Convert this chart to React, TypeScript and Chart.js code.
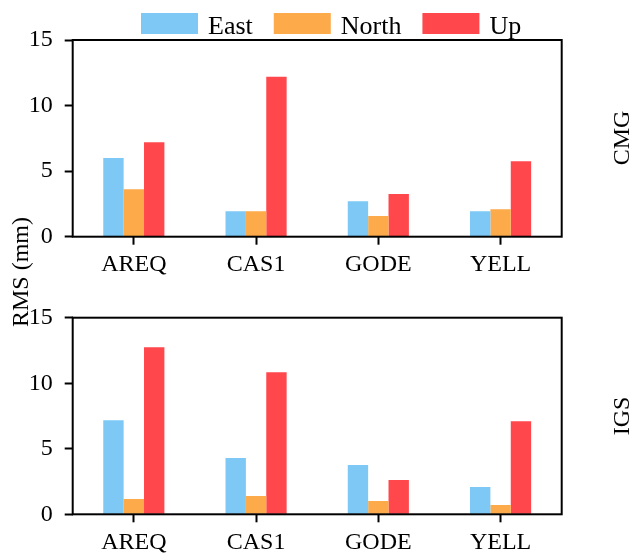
import React, { useEffect, useRef } from "react";
import { Chart, registerables } from "chart.js";

Chart.register(...registerables);

// ---- data ----
const stations = ["AREQ", "CAS1", "GODE", "YELL"];
const seriesNames = ["East", "North", "Up"];
const seriesColors = ["#7DC8F5", "#FDAA4A", "#FF474C"];

const cmgEast = [6.0, 1.95, 2.7, 1.95];
const cmgNorth = [3.62, 1.95, 1.57, 2.1];
const cmgUp = [7.2, 12.2, 3.25, 5.75];

const igsEast = [7.18, 4.3, 3.76, 2.08];
const igsNorth = [1.17, 1.4, 1.02, 0.71];
const igsUp = [12.74, 10.84, 2.61, 7.1];

const yTickValues = [0, 5, 10, 15];
const panelNames = ["CMG", "IGS"];
const yAxisTitle = "RMS (mm)";

const FONT = "'Liberation Serif', 'Times New Roman', Times, serif";
const W = 631;
const H = 558;

const framePlugin = {
  id: "frame",
  afterDatasetsDraw(chart: any) {
    const { ctx, chartArea: a } = chart;
    ctx.save();
    ctx.strokeStyle = "#000";
    ctx.lineWidth = 2;
    ctx.strokeRect(a.left, a.top, a.right - a.left, a.bottom - a.top);
    ctx.restore();
  },
};

const legendPlugin = {
  id: "topLegend",
  afterDraw(chart: any, _args: any, opts: any) {
    if (!opts || !opts.show) return;
    const { ctx } = chart;
    const boxW = 57;
    const boxH = 21;
    const gapText = 10;
    const gapItem = 21;
    const boxTop = 13;
    const baseline = 33.5;
    ctx.save();
    ctx.font = `26px ${FONT}`;
    ctx.textBaseline = "alphabetic";
    ctx.textAlign = "left";
    let x = opts.startX;
    chart.data.datasets.forEach((ds: any) => {
      ctx.fillStyle = ds.backgroundColor;
      ctx.fillRect(x, boxTop, boxW, boxH);
      ctx.fillStyle = "#000";
      ctx.fillText(ds.label, x + boxW + gapText, baseline);
      x += boxW + gapText + ctx.measureText(ds.label).width + gapItem;
    });
    ctx.restore();
  },
};

type PanelProps = {
  east: number[];
  north: number[];
  up: number[];
  top: number;
  height: number;
  padTop: number;
  xHeight: number;
  showLegend: boolean;
};

function Panel({ east, north, up, top, height, padTop, xHeight, showLegend }: PanelProps) {
  const ref = useRef<HTMLCanvasElement | null>(null);
  useEffect(() => {
    if (!ref.current) return;
    const values = [east, north, up];
    const chart = new Chart(ref.current, {
      type: "bar",
      data: {
        labels: stations,
        datasets: seriesNames.map((n, i) => ({
          label: n,
          data: values[i],
          backgroundColor: seriesColors[i],
          borderWidth: 0,
          categoryPercentage: 0.5,
          barPercentage: 1,
        })),
      },
      options: {
        responsive: false,
        animation: false,
        devicePixelRatio: 1,
        layout: { padding: { top: padTop, right: 69.3, bottom: 0, left: 0 } },
        plugins: {
          legend: { display: false },
          tooltip: { enabled: false },
          topLegend: { show: showLegend, startX: 141 },
        } as any,
        scales: {
          x: {
            grid: {
              offset: false,
              drawOnChartArea: false,
              drawTicks: true,
              tickLength: 8,
              tickWidth: 2,
              tickColor: "#000",
            },
            border: { display: false },
            ticks: {
              font: { family: FONT, size: 24 },
              color: "#000",
              padding: 6,
              maxRotation: 0,
              autoSkip: false,
            },
            afterFit: (s: any) => {
              s.height = xHeight;
            },
          },
          y: {
            min: 0,
            max: 15,
            afterBuildTicks: (s: any) => {
              s.ticks = yTickValues.map((v) => ({ value: v }));
            },
            grid: {
              drawOnChartArea: false,
              drawTicks: true,
              tickLength: 8,
              tickWidth: 2,
              tickColor: "#000",
            },
            border: { display: false },
            ticks: {
              font: { family: FONT, size: 24 },
              color: "#000",
              padding: 12,
            },
            afterFit: (s: any) => {
              s.width = 72.7;
            },
          },
        },
      } as any,
      plugins: [framePlugin, legendPlugin],
    });
    return () => chart.destroy();
  }, []);
  return (
    <canvas
      ref={ref}
      width={W}
      height={height}
      style={{ position: "absolute", left: 0, top, width: W, height }}
    />
  );
}

const labelStyle = (cx: number, cy: number): React.CSSProperties => ({
  position: "absolute",
  left: cx - 100,
  top: cy - 12,
  width: 200,
  height: 24,
  lineHeight: "24px",
  textAlign: "center",
  fontFamily: FONT,
  fontSize: 24,
  color: "#000",
  transform: "rotate(-90deg)",
  transformOrigin: "50% 50%",
  whiteSpace: "nowrap",
});

export default function App() {
  return (
    <div
      style={{
        position: "absolute",
        left: 0,
        top: 0,
        width: W,
        height: H,
        background: "#fff",
        overflow: "hidden",
      }}
    >
      <Panel east={cmgEast} north={cmgNorth} up={cmgUp} top={0} height={290} padTop={40} xHeight={53.3} showLegend={true} />
      <Panel east={igsEast} north={igsNorth} up={igsUp} top={290} height={268} padTop={27.7} xHeight={43.7} showLegend={false} />
      <div style={labelStyle(19.5, 272)}>{yAxisTitle}</div>
      <div style={labelStyle(621, 138)}>{panelNames[0]}</div>
      <div style={labelStyle(621, 416)}>{panelNames[1]}</div>
    </div>
  );
}
